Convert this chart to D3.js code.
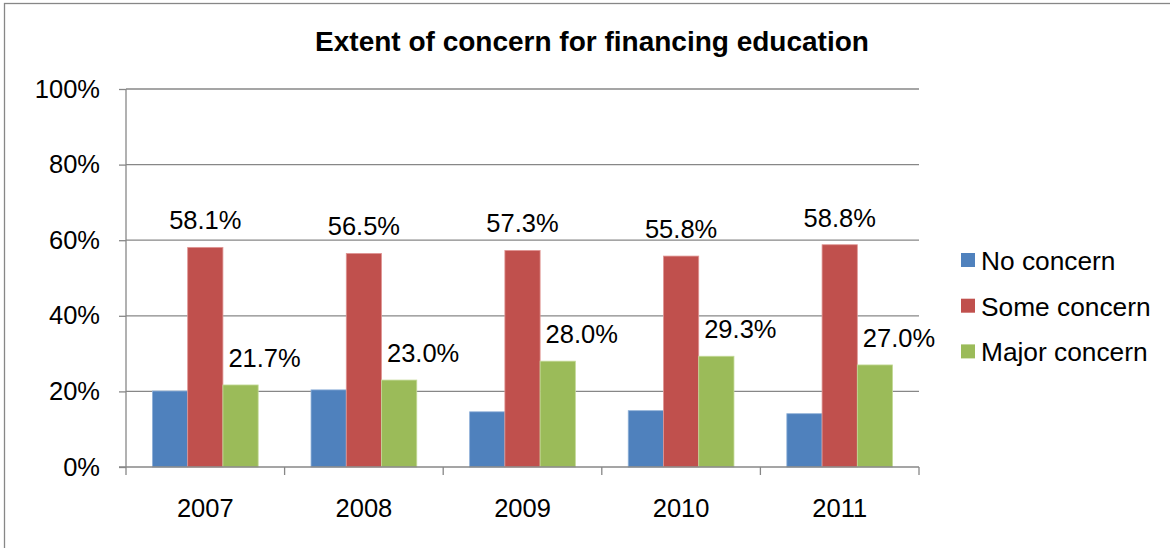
<!DOCTYPE html>
<html>
<head>
<meta charset="utf-8">
<script src="https://cdn.jsdelivr.net/npm/d3@7"></script>
<style>
  html, body { margin: 0; padding: 0; background: #fff; }
  svg { display: block; font-family: "Liberation Sans", Arial, sans-serif; }
</style>
</head>
<body>
<svg id="chart" width="1170" height="548"></svg>
<script>
// Survey results: share of respondents by level of concern about paying for education
const years = ["2007", "2008", "2009", "2010", "2011"];
const seriesNames = ["No concern", "Some concern", "Major concern"];
const noConcern = [20.1, 20.4, 14.6, 14.9, 14.1];
const someConcern = [58.1, 56.5, 57.3, 55.8, 58.8];
const majorConcern = [21.7, 23.0, 28.0, 29.3, 27.0];
const yTicks = [0, 20, 40, 60, 80, 100];
const chartTitle = "Extent of concern for financing education";

const seriesValues = [noConcern, someConcern, majorConcern];
const colors = ["#4F81BD", "#C0504D", "#9BBB59"];
const edgeColors = ["#8fb0d8", "#e09694", "#c4da98"];
const labelled = [false, true, true];   // which series carry value labels
const labelShift = [0, 0, 24];          // horizontal nudge of value labels per series

const svg = d3.select("#chart");
const W = 1170, H = 548;
const plot = { left: 126, right: 919, top: 89, bottom: 467 };
const axisColor = "#878787";
const fontSize = 25.5;

svg.append("rect").attr("width", W).attr("height", H).attr("fill", "#fff");

// outer chart frame
svg.append("rect")
  .attr("x", 4.5).attr("y", 3.5)
  .attr("width", 1300).attr("height", 700)
  .attr("fill", "none").attr("stroke", axisColor).attr("stroke-width", 1.3);

const x = d3.scaleBand().domain(years).range([plot.left, plot.right]).paddingInner(0).paddingOuter(0);
const xs = d3.scaleBand().domain(seriesNames).range([0, x.bandwidth()]).paddingInner(0).paddingOuter(0.75);
const y = d3.scaleLinear().domain([0, 100]).range([plot.bottom, plot.top]);

// horizontal gridlines
svg.append("g").selectAll("line").data(yTicks.filter(t => t > 0)).join("line")
  .attr("x1", plot.left).attr("x2", plot.right)
  .attr("y1", d => y(d)).attr("y2", d => y(d))
  .attr("stroke", axisColor).attr("stroke-width", 1.3);

// y axis
const yAxis = svg.append("g")
  .attr("transform", `translate(${plot.left},0)`)
  .call(d3.axisLeft(y).tickValues(yTicks).tickFormat(d => d + "%").tickSize(7).tickPadding(19));
yAxis.select(".domain").attr("stroke", axisColor).attr("stroke-width", 1.3).attr("d", `M-0,${plot.top}V${plot.bottom}`);
yAxis.selectAll(".tick line").attr("stroke", axisColor).attr("stroke-width", 1.3);
yAxis.selectAll(".tick text").attr("font-size", fontSize).attr("fill", "#000")
  .attr("font-family", "'Liberation Sans', Arial, sans-serif");

// bars
const groups = svg.append("g").selectAll("g").data(seriesValues).join("g");
groups.each(function (vals, si) {
  d3.select(this).selectAll("rect").data(vals).join("rect")
    .attr("x", (d, i) => x(years[i]) + xs(seriesNames[si]))
    .attr("width", xs.bandwidth())
    .attr("y", d => y(d))
    .attr("height", d => y(0) - y(d))
    .attr("fill", colors[si])
    .attr("stroke", edgeColors[si])
    .attr("stroke-width", 0.8);
});

// x axis line with ticks at category boundaries
const xAxisG = svg.append("g");
xAxisG.append("line")
  .attr("x1", plot.left - 7).attr("x2", plot.right)
  .attr("y1", plot.bottom).attr("y2", plot.bottom)
  .attr("stroke", axisColor).attr("stroke-width", 1.3);
const boundaries = years.map(yr => x(yr)).concat([plot.right]);
xAxisG.selectAll("line.b").data(boundaries).join("line").attr("class", "b")
  .attr("x1", d => d).attr("x2", d => d)
  .attr("y1", plot.bottom).attr("y2", plot.bottom + 8)
  .attr("stroke", axisColor).attr("stroke-width", 1.3);

const xAxis = svg.append("g")
  .attr("transform", `translate(0,${plot.bottom})`)
  .call(d3.axisBottom(x).tickSize(0).tickPadding(32));
xAxis.select(".domain").remove();
xAxis.selectAll(".tick text").attr("font-size", fontSize).attr("fill", "#000")
  .attr("font-family", "'Liberation Sans', Arial, sans-serif");

// value labels
seriesValues.forEach((vals, si) => {
  if (!labelled[si]) return;
  svg.append("g").selectAll("text").data(vals).join("text")
    .attr("x", (d, i) => x(years[i]) + xs(seriesNames[si]) + xs.bandwidth() / 2 + labelShift[si])
    .attr("y", d => y(d) - 18)
    .attr("text-anchor", "middle")
    .attr("font-size", fontSize)
    .attr("fill", "#000")
    .text(d => d.toFixed(1) + "%");
});

// title
svg.append("text")
  .attr("x", 592).attr("y", 51)
  .attr("text-anchor", "middle")
  .attr("font-size", 28).attr("font-weight", "bold")
  .attr("fill", "#000")
  .text(chartTitle);

// legend
const legend = svg.append("g").attr("transform", "translate(961,253)");
const rows = legend.selectAll("g").data(seriesNames).join("g")
  .attr("transform", (d, i) => `translate(0,${i * 45.7})`);
rows.append("rect").attr("width", 14).attr("height", 14)
  .attr("fill", (d, i) => colors[i]);
rows.append("text").attr("x", 20).attr("y", 17)
  .attr("font-size", 26.3).attr("fill", "#000")
  .text(d => d);
</script>
</body>
</html>
